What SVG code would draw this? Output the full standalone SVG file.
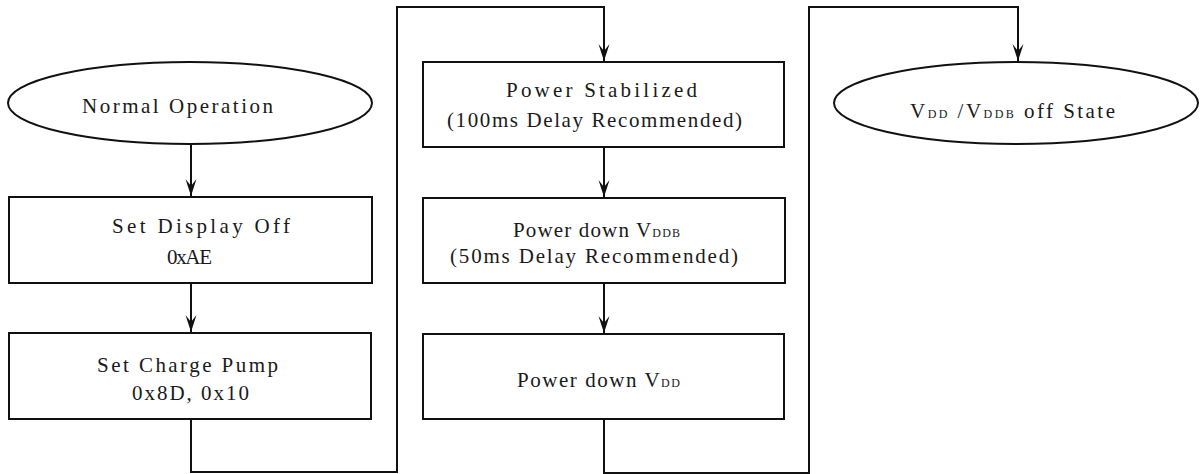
<svg xmlns="http://www.w3.org/2000/svg" width="1201" height="474" viewBox="0 0 1201 474">
<style>
.shape{fill:#fff;stroke:#111;stroke-width:2}
.conn{fill:none;stroke:#111;stroke-width:2}
text{font-family:"Liberation Serif","DejaVu Serif",serif;font-size:21px;fill:#1a1a1a}
.sub{font-size:12px}
</style>
<defs>
<marker id="arr" markerUnits="userSpaceOnUse" markerWidth="18" markerHeight="12" refX="17" refY="6" orient="auto" viewBox="0 0 18 12">
<path d="M0,0.5 L17,6 L0,11.5 L7,6 Z" fill="#111"/>
</marker>
</defs>
<rect width="1201" height="474" fill="#fff"/>
<g id="connectors">
<path class="conn" d="M191,145 V196" marker-end="url(#arr)"/>
<path class="conn" d="M191,283 V332" marker-end="url(#arr)"/>
<path class="conn" d="M191,419 V472 H397 V7 H604 V61" marker-end="url(#arr)"/>
<path class="conn" d="M604,147 V197" marker-end="url(#arr)"/>
<path class="conn" d="M604,283 V333" marker-end="url(#arr)"/>
<path class="conn" d="M604,419 V473 H809 V7 H1018 V61" marker-end="url(#arr)"/>
</g>
<g id="normal-operation">
<ellipse class="shape" cx="190" cy="103" rx="182" ry="41"/>
<text x="82" y="113" textLength="191" lengthAdjust="spacing">Normal Operation</text>
</g>
<g id="set-display-off">
<rect class="shape" x="9" y="197" width="363" height="86"/>
<text x="112" y="233" textLength="178" lengthAdjust="spacing">Set Display Off</text>
<text x="167" y="264" textLength="45" lengthAdjust="spacing">0xAE</text>
</g>
<g id="set-charge-pump">
<rect class="shape" x="9" y="333" width="362" height="86"/>
<text x="97" y="372" textLength="181" lengthAdjust="spacing">Set Charge Pump</text>
<text x="132" y="400" textLength="117" lengthAdjust="spacing">0x8D, 0x10</text>
</g>
<g id="power-stabilized">
<rect class="shape" x="423" y="62" width="361" height="85"/>
<text x="506" y="97" textLength="191" lengthAdjust="spacing">Power Stabilized</text>
<text x="447" y="127" textLength="295" lengthAdjust="spacing">(100ms Delay Recommended)</text>
</g>
<g id="power-down-vddb">
<rect class="shape" x="423" y="198" width="362" height="85"/>
<text x="513" y="237" textLength="167" lengthAdjust="spacing">Power down V<tspan class="sub">DDB</tspan></text>
<text x="450" y="263" textLength="288" lengthAdjust="spacing">(50ms Delay Recommended)</text>
</g>
<g id="power-down-vdd">
<rect class="shape" x="423" y="334" width="361" height="85"/>
<text x="517" y="387" textLength="163" lengthAdjust="spacing">Power down V<tspan class="sub">DD</tspan></text>
</g>
<g id="off-state">
<ellipse class="shape" cx="1016" cy="103" rx="182" ry="41"/>
<text x="910" y="118" textLength="205" lengthAdjust="spacing">V<tspan class="sub">DD</tspan> /V<tspan class="sub">DDB</tspan> off State</text>
</g>
</svg>
